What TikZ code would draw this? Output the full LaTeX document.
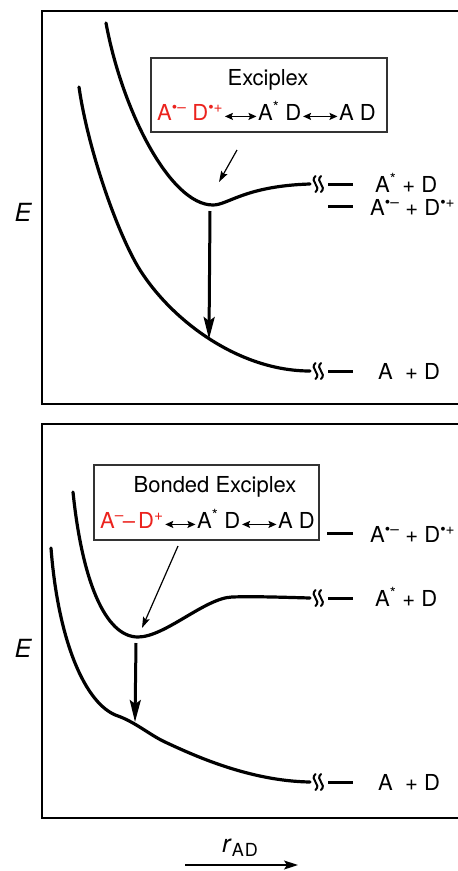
\documentclass[tikz,border=0pt]{standalone}
\usepackage{fontspec}
\setmainfont{TeX Gyre Heros}
\usetikzlibrary{arrows.meta}
\definecolor{exred}{RGB}{235,35,30}
\begin{document}
\begin{tikzpicture}[x=1pt,y=-1pt,
  pes/.style={line width=3.2pt, line cap=round, line join=round},
  frame/.style={line width=2pt, line join=miter},
  labelbox/.style={draw=black!80, line width=1.5pt, inner sep=0pt},
  reso/.style={font=\fontsize{22}{26}\selectfont, inner sep=0pt, text height=0.72em, text depth=0pt, anchor=base west},
  title/.style={font=\fontsize{22}{26}\selectfont, inner sep=0pt, anchor=base},
  lab/.style={font=\fontsize{22}{26}\selectfont, inner sep=0pt, anchor=base west},
  lvl/.style={line width=3pt},
  bigarrow/.style={line width=3pt, -{Stealth[length=22pt,width=11pt,inset=4pt]}},
  thinarrow/.style={line width=1.2pt, -{Stealth[length=11pt,width=7pt,inset=2pt]}},
  resarrow/.style={line width=1.5pt, {Stealth[length=8pt,width=7pt,inset=1.5pt]}-{Stealth[length=8pt,width=7pt,inset=1.5pt]}, shorten <=1.5pt, shorten >=1.5pt},
  axisarrow/.style={line width=1.3pt, -{Stealth[length=14pt,width=9pt,inset=3pt]}},
  squiggle/.pic={
    \draw[line width=2pt, line cap=round] (-2.5,-8) .. controls (-9,-2) and (4,2) .. (-2.5,8);
    \draw[line width=2pt, line cap=round] (3,-8) .. controls (-3.5,-2) and (9.5,2) .. (3,8);
  }
]
\useasboundingbox (0,0) rectangle (458,871);

% ---------- top panel ----------
\draw[frame] (459,11) -- (42,11) -- (42,404) -- (459,404);
\node[font=\fontsize{25}{30}\selectfont\itshape, inner sep=0pt] (E1) at (23,212) {E};

\draw[pes] (106,23) .. controls (122,110) and (170,205) .. (213,205)
                    .. controls (228,205) and (245,186) .. (310,184);
\draw[pes] (79,87) .. controls (88,150) and (118,235) .. (140,270)
                   .. controls (173,322) and (240,371) .. (310,371);

\pic at (318,184) {squiggle};
\pic at (318,371) {squiggle};
\draw[lvl] (328,184) -- (353,184);
\draw[lvl] (328,206) -- (353,206);
\draw[lvl] (328,371) -- (353,371);
\node[lab] (L1) at (375,192) {A\textsuperscript{*} + D};
\node[lab] (L2) at (370,215) {A\textsuperscript{\textbullet–} + D\textsuperscript{\textbullet+}};
\node[lab] (L3) at (378,379) {A\ \ + D};

\node[labelbox, minimum width=236pt, minimum height=74pt] (box1) at (269,95) {};
\node[title] (T1) at (268,85) {Exciplex};
\node[reso, text=exred] (R1) at (157,120) {A\textsuperscript{\textbullet–} D\textsuperscript{\textbullet+}};
\node[reso] (M1) at (258,120) {A\textsuperscript{*} D};
\node[reso] (N1) at (339,120) {A D};
\draw[resarrow] (R1.east) -- (M1.west);
\draw[resarrow] (M1.east) -- (N1.west);

\coordinate (p1s) at (237,150);
\coordinate (p1e) at (219,182);
\draw[thinarrow] (p1s) -- (p1e);
\coordinate (v1s) at (210,211);
\coordinate (v1e) at (209,339);
\draw[bigarrow] (v1s) -- (v1e);

% ---------- bottom panel ----------
\draw[frame] (459,424) -- (42,424) -- (42,818) -- (459,818);
\node[font=\fontsize{25}{30}\selectfont\itshape, inner sep=0pt] (E2) at (23,648) {E};

\draw[pes] (73,492) .. controls (82,580) and (105,637) .. (138,637)
                    .. controls (165,637) and (205,598) .. (232,597)
                    .. controls (252,596.3) and (275,597) .. (310,598);
\draw[pes] (51,548) .. controls (58,640) and (85,705) .. (118,716)
                    .. controls (135,722) and (150,735) .. (165,742)
                    .. controls (195,756) and (250,781) .. (310,782);

\pic at (318,598) {squiggle};
\pic at (318,782) {squiggle};
\draw[lvl] (327,533) -- (353,533);
\draw[lvl] (328,598) -- (353,598);
\draw[lvl] (328,782) -- (353,782);
\node[lab] (L4) at (370,542) {A\textsuperscript{\textbullet–} + D\textsuperscript{\textbullet+}};
\node[lab] (L5) at (375,606) {A\textsuperscript{*} + D};
\node[lab] (L6) at (378,790) {A\ \ + D};

\node[labelbox, minimum width=225pt, minimum height=75pt] (box2) at (206.5,502.5) {};
\node[title] (T2) at (215,492) {Bonded Exciplex};
\node[reso, text=exred] (R2) at (100,528) {A\textsuperscript{–}\kern-1pt–\kern3pt D\textsuperscript{+}};
\node[reso] (M2) at (197,528) {A\textsuperscript{*} D};
\node[reso] (N2) at (278,528) {A D};
\draw[resarrow] (R2.east) -- (M2.west);
\draw[resarrow] (M2.east) -- (N2.west);

\coordinate (p2s) at (178,546);
\coordinate (p2e) at (142,628);
\draw[thinarrow] (p2s) -- (p2e);
\coordinate (v2s) at (136,643);
\coordinate (v2e) at (135,722);
\draw[bigarrow] (v2s) -- (v2e);

% ---------- axis ----------
\node[font=\fontsize{25}{30}\selectfont, inner sep=0pt, anchor=base west] (rad) at (222,852) {\textit{r}\textsubscript{\fontsize{18}{20}\selectfont A\kern1pt D}};
\coordinate (ax1) at (185,865);
\coordinate (ax2) at (298,865);
\draw[axisarrow] (ax1) -- (ax2);
\end{tikzpicture}
\end{document}
